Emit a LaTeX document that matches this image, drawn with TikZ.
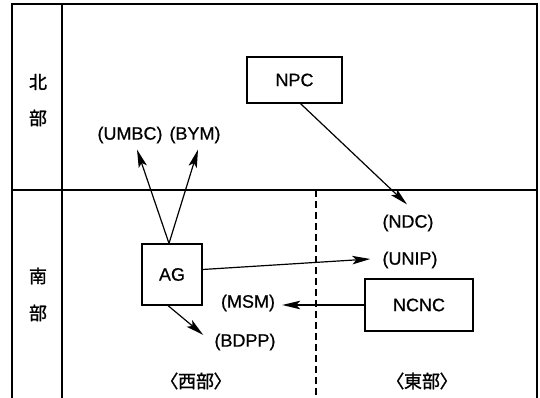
\documentclass[tikz,border=0pt]{standalone}
\usepackage{fontspec}
\setmainfont{Liberation Sans}[FakeBold=0.6]
\newfontfamily\cjk[RawFeature=+palt,FakeBold=1.2]{Noto Sans CJK JP}
\usetikzlibrary{arrows.meta}
\begin{document}
\begin{tikzpicture}[x=1pt,y=1pt,
  frame/.style={line width=1.4pt},
  boxnode/.style={draw,line width=1.2pt,inner sep=0pt,font=\fontsize{18}{20}\selectfont},
  lbl/.style={inner sep=2pt,font=\fontsize{18}{20}\selectfont},
  cj/.style={inner sep=1pt,font=\fontsize{18}{20}\selectfont\cjk},
  arr/.style={line width=1.2pt,-{Stealth[length=18pt,width=8.5pt,inset=4pt]}}]
\useasboundingbox (0,0) rectangle (540,398);
% frame
\draw[frame] (12,0) -- (12,394) -- (537,394) -- (537,0);
\draw[frame] (62,0) -- (62,394);
\draw[frame] (12,208) -- (537,208);
\draw[line width=1.1pt,dashed,dash pattern=on 7pt off 4pt] (316,208) -- (316,0);
% side labels
\node[cj] (bei) at (38,316) {北};
\node[cj] (bu1) at (38,280) {部};
\node[cj] (nan) at (38,122) {南};
\node[cj] (bu2) at (38,85) {部};
% boxes
\node[boxnode,minimum width=95pt,minimum height=46pt] (NPC) at (294.5,318) {NPC};
\node[boxnode,minimum width=60pt,minimum height=61pt] (AG) at (172,123.5) {AG};
\node[boxnode,minimum width=108pt,minimum height=52pt] (NCNC) at (419,93) {NCNC};
% labels
\node[lbl] (umbc) at (130,263) {(UMBC)};
\node[lbl] (bym) at (195,263) {(BYM)};
\node[lbl] (ndc) at (408,175) {(NDC)};
\node[lbl] (unip) at (410,138) {(UNIP)};
\node[lbl] (msm) at (248,95) {(MSM)};
\node[lbl] (bdpp) at (245,56) {(BDPP)};
\node[cj] (west) at (196,17) {〈西部〉};
\node[cj] (east) at (422,17) {〈東部〉};
% connectors
\draw[arr] ([xshift=-3pt]AG.north) -- ([shift={(7pt,-4pt)}]umbc.south);
\draw[arr] ([xshift=-3pt]AG.north) -- ([shift={(3pt,-4pt)}]bym.south);
\draw[arr] ([xshift=6pt]NPC.south) -- ([shift={(-1pt,8pt)}]ndc.north);
\draw[arr] ([yshift=5pt]AG.east) -- ([shift={(-10pt,1pt)}]unip.west);
\draw[arr] (NCNC.west) -- ([xshift=5pt]NCNC.west -| msm.east);
\draw[arr] ([xshift=-4pt]AG.south) -- ([shift={(-9pt,7pt)}]bdpp.west);
\end{tikzpicture}
\end{document}
